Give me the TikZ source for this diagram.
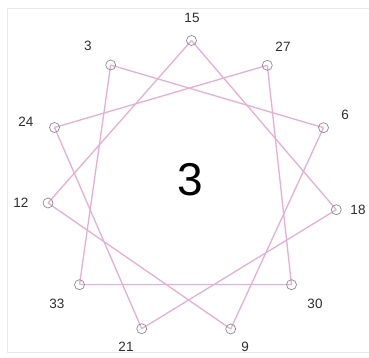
\documentclass[tikz,border=0pt]{standalone}
\usepackage{fontspec}
\setmainfont{Liberation Sans}
\definecolor{edgepink}{RGB}{228,176,210}
\definecolor{ringgray}{RGB}{140,140,140}
\definecolor{framegray}{RGB}{232,232,232}
\definecolor{labelgray}{RGB}{45,45,45}
\begin{document}
\begin{tikzpicture}[x=1pt,y=-1pt,
  pt/.style={circle,draw=ringgray,line width=0.7pt,minimum size=10pt,inner sep=0pt},
  lbl/.style={text=labelgray,font=\fontsize{13.5}{15}\selectfont,inner sep=0pt},
  chord/.style={draw=edgepink,line width=1.3pt}]
\useasboundingbox (0,0) rectangle (369,358);
\fill[white] (0,0) rectangle (369,358);
\draw[framegray,line width=1pt] (369,9) -- (7,9) -- (7,352) -- (369,352);
% points
\coordinate (p15) at (191.5,40.5);
\coordinate (p27) at (267.3,65.3);
\coordinate (p6)  at (323.5,127.7);
\coordinate (p18) at (336.3,209.7);
\coordinate (p30) at (291.5,284.7);
\coordinate (p9)  at (230.7,329);
\coordinate (p21) at (141.7,328.7);
\coordinate (p33) at (79.5,284.7);
\coordinate (p12) at (48,203);
\coordinate (p24) at (54.5,127.5);
\coordinate (p3)  at (110.7,65);
% chords
\foreach \a/\b in {15/18,18/21,21/24,24/27,27/30,30/33,33/3,3/6,6/9,9/12,12/15}
  \draw[chord] (p\a) -- (p\b);
% rings
\foreach \a in {15,27,6,18,30,9,21,33,12,24,3}
  \node[pt] (n\a) at (p\a) {};
% labels
\node[lbl] (l15) at (192,18) {15};
\node[lbl] (l27) at (283,47) {27};
\node[lbl] (l6)  at (345,115) {6};
\node[lbl] (l18) at (358,210) {18};
\node[lbl] (l30) at (315,304) {30};
\node[lbl] (l9)  at (245,347) {9};
\node[lbl] (l21) at (126,347) {21};
\node[lbl] (l33) at (57,304) {33};
\node[lbl] (l12) at (21,203) {12};
\node[lbl] (l24) at (26,122) {24};
\node[lbl] (l3)  at (88,46) {3};
\node[font=\fontsize{46}{50}\selectfont,inner sep=0pt] (center) at (190,180) {3};
\end{tikzpicture}
\end{document}
